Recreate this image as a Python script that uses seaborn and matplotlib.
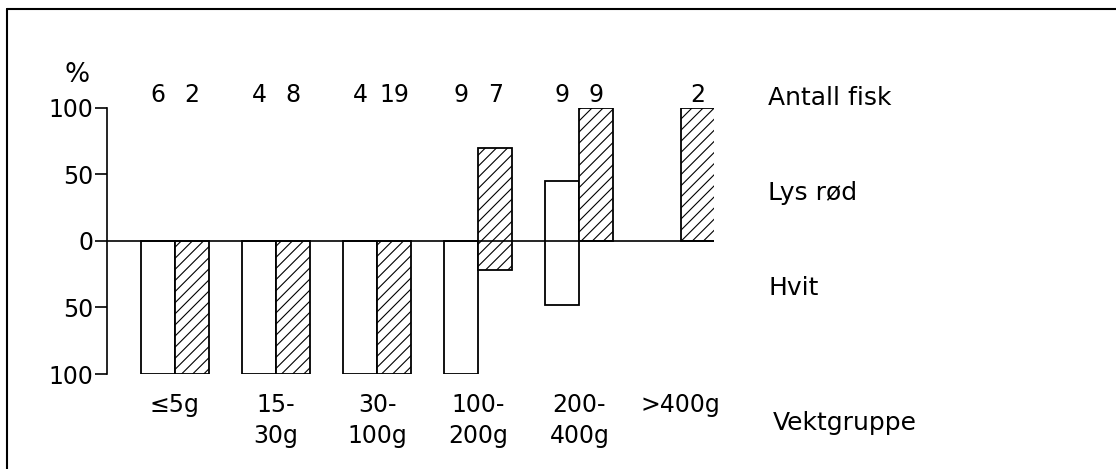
import numpy as np
import pandas as pd
import matplotlib.pyplot as plt
from matplotlib.lines import Line2D
import seaborn as sns

# Vektgrupper
groups = ['≤5g', '15-\n30g', '30-\n100g', '100-\n200g', '200-\n400g', '>400g']

# Antall fisk (open bar, hatched bar)
n_open = [6, 4, 4, 9, 9, np.nan]
n_hatch = [2, 8, 19, 7, 9, 2]

# % lys rød (upwards) and % hvit (downwards)
lysrod_open = [0, 0, 0, 0, 45, np.nan]
hvit_open = [100, 100, 100, 100, 48, np.nan]
lysrod_hatch = [0, 0, 0, 70, 100, 100]
hvit_hatch = [100, 100, 100, 22, 0, 0]

sns.set_style('ticks')
plt.rcParams['font.family'] = ['DejaVu Sans']
plt.rcParams['hatch.linewidth'] = 0.8
for k in ['text.color', 'axes.labelcolor', 'xtick.color', 'ytick.color', 'axes.edgecolor']:
    plt.rcParams[k] = 'black'

fig = plt.figure(figsize=(11.16, 4.69), dpi=100)
ax = fig.add_axes([107 / 1116, 1 - 374 / 469, 607 / 1116, 266 / 469])

pos = np.arange(len(groups))
off = 0.168
bw = 0.336


def make_df(xs, top, low, counts):
    d = pd.DataFrame({'x': xs, 'top': top, 'bunn': np.negative(low), 'n': counts})
    d = d.dropna(subset=['top'])
    d['span'] = d['top'] - d['bunn']
    return d


df_open = make_df(pos - off, lysrod_open, hvit_open, n_open)
df_hatch = make_df(pos + off, lysrod_hatch, hvit_hatch, n_hatch)

sns.barplot(data=df_open, x='x', y='span', native_scale=True, bottom=df_open['bunn'].values,
            width=bw, color='white', saturation=1, edgecolor='black', linewidth=1.3,
            errorbar=None, ax=ax)
sns.barplot(data=df_hatch, x='x', y='span', native_scale=True, bottom=df_hatch['bunn'].values,
            width=bw, color='white', saturation=1, edgecolor='black', linewidth=1.3,
            hatch='///', errorbar=None, ax=ax)

ax.axhline(0, color='black', lw=1.2, zorder=5)

# counts above the bars
for d in (df_open, df_hatch):
    for _, r in d.iterrows():
        if not np.isnan(r['n']):
            ax.annotate(f"{int(r['n'])}", xy=(r['x'], 100), xytext=(0, 4),
                        textcoords='offset points', ha='center', va='baseline', fontsize=17)

ax.set_xlim(-0.67, 5.33)
ax.set_ylim(-100, 100)
ax.set_yticks([-100, -50, 0, 50, 100])
ax.set_yticklabels(['100', '50', '0', '50', '100'])
ax.set_xticks(pos)
ax.set_xticklabels(groups, linespacing=1.35)
ax.set_xlabel('')
ax.set_ylabel('')
ax.tick_params(axis='x', length=0, pad=14, labelsize=17)
ax.tick_params(axis='y', length=9, width=1.2, pad=1, labelsize=17)
sns.despine(ax=ax, bottom=True)
ax.spines['left'].set_linewidth(1.2)

fig.text(0.069, 1 - 82 / 469, '%', ha='center', va='baseline', fontsize=19)
fig.text(768 / 1116, 1 - 105 / 469, 'Antall fisk', ha='left', va='baseline', fontsize=18)
fig.text(768 / 1116, 1 - 200 / 469, 'Lys rød', ha='left', va='baseline', fontsize=18)
fig.text(768 / 1116, 1 - 295 / 469, 'Hvit', ha='left', va='baseline', fontsize=18)
fig.text(773 / 1116, 1 - 430 / 469, 'Vektgruppe', ha='left', va='baseline', fontsize=18)

# frame from the scanned figure (left and top edges)
fig.add_artist(Line2D([7 / 1116, 7 / 1116], [0, 1 - 9 / 469], transform=fig.transFigure,
                      color='black', lw=1.5))
fig.add_artist(Line2D([7 / 1116, 1], [1 - 9 / 469, 1 - 9 / 469], transform=fig.transFigure,
                      color='black', lw=1.5))

fig.savefig('out.png', dpi=100)
